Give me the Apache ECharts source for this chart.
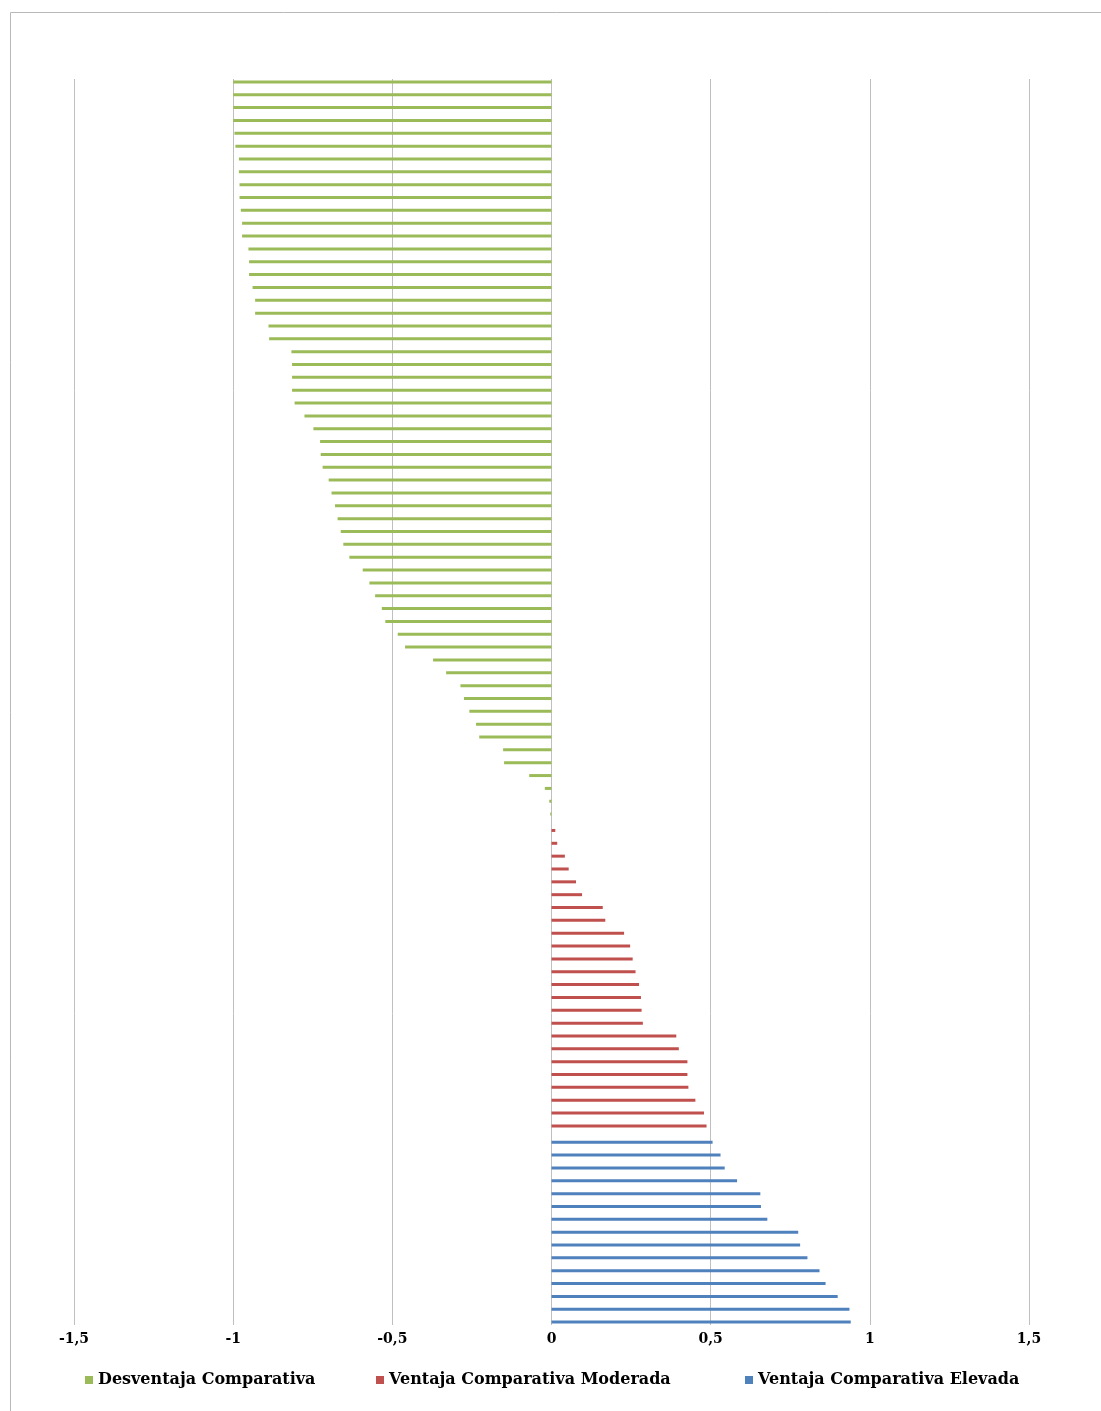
<!DOCTYPE html>
<html>
<head>
<meta charset="utf-8">
<title>Ventaja comparativa</title>
<script src="https://cdn.jsdelivr.net/npm/echarts@6/dist/echarts.min.js"></script>
<style>
    html, body { margin: 0; padding: 0; background: #fff; }
    #chart { width: 1101px; height: 1411px; }
</style>
</head>
<body>
<div id="chart"></div>
<script>
var seriesNames = ['Desventaja Comparativa', 'Ventaja Comparativa Moderada', 'Ventaja Comparativa Elevada'];
var seriesColors = ['#9BBB59', '#C0504D', '#4F81BD'];

var desventaja = [-1.00, -1.00, -1.00, -1.00, -0.996, -0.993, -0.982, -0.982, -0.980, -0.980,
    -0.976, -0.972, -0.972, -0.952, -0.950, -0.950, -0.939, -0.931, -0.931, -0.889,
    -0.887, -0.817, -0.815, -0.815, -0.815, -0.807, -0.776, -0.748, -0.727, -0.725,
    -0.719, -0.700, -0.691, -0.680, -0.672, -0.662, -0.654, -0.635, -0.593, -0.572,
    -0.554, -0.533, -0.522, -0.483, -0.460, -0.372, -0.331, -0.286, -0.275, -0.258,
    -0.237, -0.227, -0.152, -0.149, -0.070, -0.021, -0.007, -0.004];
var moderada = [0.012, 0.018, 0.042, 0.054, 0.077, 0.096, 0.161, 0.169, 0.228, 0.247,
    0.255, 0.264, 0.275, 0.281, 0.283, 0.287, 0.392, 0.400, 0.427, 0.427,
    0.430, 0.452, 0.479, 0.487];
var elevada = [0.506, 0.531, 0.544, 0.583, 0.656, 0.658, 0.678, 0.775, 0.781, 0.804,
    0.842, 0.861, 0.899, 0.936, 0.940];

var xTicks = [-1.5, -1, -0.5, 0, 0.5, 1, 1.5];

// una categoria por producto, cada serie ocupa solo su tramo
var total = desventaja.length + moderada.length + elevada.length;
var categories = [];
for (var i = 0; i < total; i++) {
    categories.push('P' + (i + 1));
}

function padSeries(values, before) {
    var out = [];
    for (var i = 0; i < total; i++) {
        var k = i - before;
        out.push(k >= 0 && k < values.length ? values[k] : null);
    }
    return out;
}

var groups = [
    padSeries(desventaja, 0),
    padSeries(moderada, desventaja.length),
    padSeries(elevada, desventaja.length + moderada.length)
];

var series = [];
for (var s = 0; s < groups.length; s++) {
    series.push({
        name: seriesNames[s],
        type: 'bar',
        data: groups[s],
        barWidth: 3,
        barGap: '17%',
        itemStyle: { color: seriesColors[s] },
        silent: true
    });
}

// una leyenda por serie para fijar su posicion
var legendLeft = [80, 371, 740];
var legends = [];
for (var l = 0; l < seriesNames.length; l++) {
    legends.push({
        data: [seriesNames[l]],
        left: legendLeft[l],
        top: 1367,
        icon: 'rect',
        itemWidth: 8,
        itemHeight: 8,
        textStyle: { fontFamily: 'DejaVu Serif', fontWeight: 'bold', fontSize: 16, color: '#000' }
    });
}

var chart = echarts.init(document.getElementById('chart'), null, { renderer: 'canvas' });
chart.setOption({
    animation: false,
    backgroundColor: '#fff',
    textStyle: { fontFamily: 'DejaVu Serif' },
    graphic: [{
        type: 'rect',
        shape: { x: 10.5, y: 12.5, width: 1200, height: 1500 },
        style: { fill: 'none', stroke: '#b8b8b8', lineWidth: 1 },
        silent: true
    }],
    legend: legends,
    grid: { left: 74, right: 72, top: 79, height: 1246 },
    xAxis: {
        type: 'value',
        min: xTicks[0],
        max: xTicks[xTicks.length - 1],
        interval: 0.5,
        axisLine: { show: false },
        axisTick: { show: false },
        splitLine: { show: true, lineStyle: { color: '#bfbfbf', width: 1 } },
        axisLabel: {
            margin: 7,
            fontFamily: 'DejaVu Serif',
            fontWeight: 'bold',
            fontSize: 14,
            color: '#000',
            formatter: function (v) { return String(v).replace('.', ','); }
        }
    },
    yAxis: {
        type: 'category',
        data: categories,
        inverse: true,
        axisLine: { show: false },
        axisTick: { show: false },
        axisLabel: { show: false },
        splitLine: { show: false }
    },
    series: series
});
</script>
</body>
</html>
